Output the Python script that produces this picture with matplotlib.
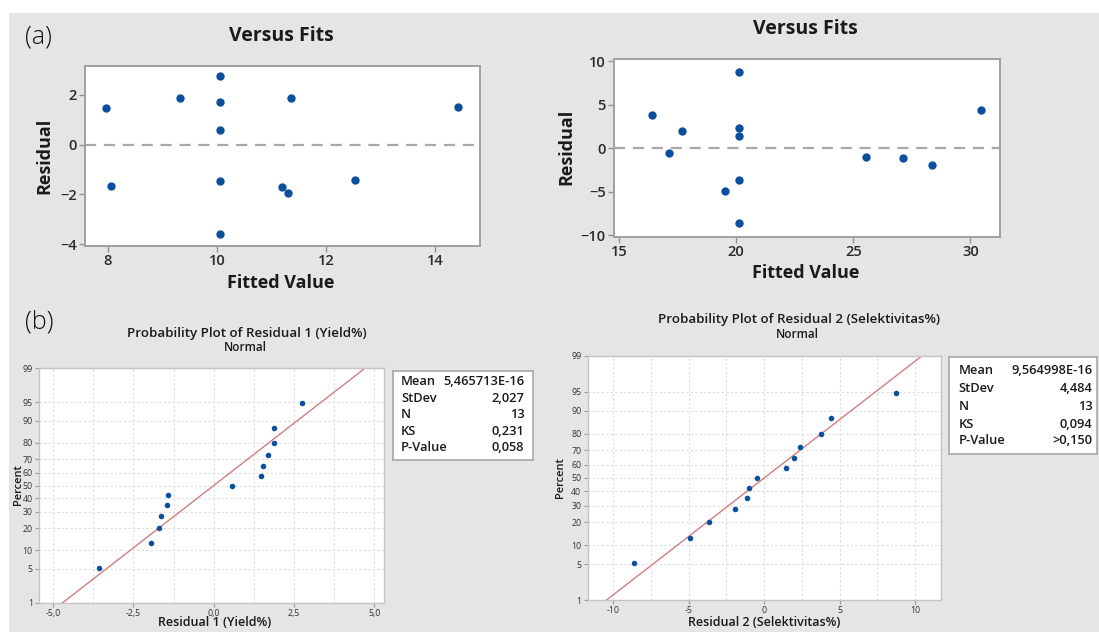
import numpy as np
import matplotlib
matplotlib.use("Agg")
import matplotlib.pyplot as plt
from matplotlib.patches import Rectangle
from statistics import NormalDist

# residuals vs fits
fits_yield = [7.97, 8.05, 9.33, 10.05, 10.05, 10.05, 10.05, 10.05, 11.35, 11.19, 11.30, 12.53, 14.42]
resid_yield = [1.48, -1.65, 1.88, 2.75, 1.70, 0.58, -1.47, -3.58, 1.88, -1.70, -1.94, -1.42, 1.52]

fits_sel = [16.42, 17.13, 17.69, 20.13, 20.13, 20.13, 20.13, 20.13, 19.51, 25.55, 27.13, 28.35, 30.43]
resid_sel = [3.79, -0.49, 2.00, 8.74, 2.34, 1.46, -3.63, -8.58, -4.94, -0.99, -1.15, -1.95, 4.45]

# probability plot percents (plotting positions)
pct = [5.2, 12.7, 20.1, 27.6, 35.1, 42.5, 50.0, 57.5, 64.9, 72.4, 79.9, 87.3, 94.8]
pct_ticks = [1, 5, 10, 20, 30, 40, 50, 60, 70, 80, 90, 95, 99]

stat_names = ['Mean', 'StDev', 'N', 'KS', 'P-Value']
stats_yield = ['5,465713E-16', '2,027', '13', '0,231', '0,058']
stats_sel = ['9,564998E-16', '4,484', '13', '0,094', '>0,150']
mean_yield, sd_yield = 0.0, 2.027
mean_sel, sd_sel = 0.0, 4.484

W, H = 1099, 632
BG = '#e5e5e5'
DOT = '#0b4f9f'
TXT = '#1a1a1a'

plt.rcParams['font.family'] = ['Open Sans', 'DejaVu Sans']

fig = plt.figure(figsize=(W / 100, H / 100), dpi=100)
fig.patch.set_facecolor('white')
fig.patches.append(Rectangle((9 / W, 0), 1 - 9 / W, 1 - 13 / H, transform=fig.transFigure,
                             facecolor=BG, edgecolor='none', zorder=-10))


def fx(px):
    return px / W


def fy(py):
    return 1 - py / H


def box(x0, y0, x1, y1):
    return [fx(x0), fy(y1), (x1 - x0) / W, (y1 - y0) / H]


def txt(x, y, s, **kw):
    kw.setdefault('ha', 'center')
    kw.setdefault('va', 'center')
    kw.setdefault('color', TXT)
    fig.text(fx(x), fy(y), s, **kw)


_nd = NormalDist()


def probit(p):
    p = np.clip(np.asarray(p, dtype=float), 1e-6, 100 - 1e-6) / 100
    return np.array([_nd.inv_cdf(v) if np.isfinite(v) else np.nan for v in p.ravel()]).reshape(p.shape)


def iprobit(z):
    z = np.asarray(z, dtype=float)
    return np.array([_nd.cdf(v) * 100 if np.isfinite(v) else np.nan for v in z.ravel()]).reshape(z.shape)


def fits_panel(rect, fits, resid, xlim, ylim, xticks, yticks):
    ax = fig.add_axes(rect)
    ax.scatter(fits, resid, s=36, color=DOT, zorder=3, linewidths=0)
    ax.axhline(0, color='#a8a8a8', lw=1.6, dashes=(5, 3.5), zorder=2)
    ax.set_xlim(*xlim)
    ax.set_ylim(*ylim)
    ax.set_xticks(xticks)
    ax.set_yticks(yticks)
    for sp in ax.spines.values():
        sp.set_color('#a0a0a0')
        sp.set_linewidth(1.4)
    ax.tick_params(length=4, width=1, color='#909090', labelsize=10.5,
                   labelcolor='#2a2a2a', pad=2)
    for lab in ax.get_xticklabels() + ax.get_yticklabels():
        lab.set_fontweight('semibold')
    return ax


def prob_panel(rect, resid, mean, sd, xlim, xticks, xgrid):
    ax = fig.add_axes(rect)
    ax.set_yscale('function', functions=(probit, iprobit))
    ax.set_ylim(1, 99)
    ax.set_xlim(*xlim)
    for g in xgrid:
        ax.axvline(g, color='#dcdcdc', lw=0.8, dashes=(2, 2), zorder=1)
    for g in pct_ticks:
        ax.axhline(g, color='#dcdcdc', lw=0.8, dashes=(2, 2), zorder=1)
    ends = np.array([1, 99])
    ax.plot(mean + sd * probit(ends), ends, color='#cf7f7f', lw=1.0, zorder=2)
    ax.scatter(np.sort(resid), pct, s=16, color=DOT, zorder=3, linewidths=0)
    ax.set_yticks(pct_ticks)
    ax.set_yticklabels([str(t) for t in pct_ticks])
    ax.yaxis.set_minor_locator(plt.NullLocator())
    ax.set_xticks(xticks)
    ax.set_xticklabels([f'{t:.1f}'.replace('.', ',') if isinstance(t, float) else str(t) for t in xticks])
    for sp in ax.spines.values():
        sp.set_color('#c4c4c4')
        sp.set_linewidth(1.0)
    ax.tick_params(length=3, width=0.8, color='#9a9a9a', labelsize=6.3,
                   labelcolor='#333333', pad=1.5)
    return ax


def stats_box(x0, y0, x1, y1, values, rows_y, lx, rx):
    bx = fig.add_axes(box(x0, y0, x1, y1))
    bx.set_xticks([])
    bx.set_yticks([])
    for sp in bx.spines.values():
        sp.set_color('#a8a8a8')
        sp.set_linewidth(1.2)
    for name, val, ry in zip(stat_names, values, rows_y):
        txt(lx, ry, name, ha='left', fontsize=9.3, fontweight='semibold')
        txt(rx, ry, val, ha='right', fontsize=9.3, fontweight='semibold')


# (a) residuals versus fits
fits_panel(box(85, 66, 480, 246), fits_yield, resid_yield, (7.58, 14.82), (-4.08, 3.16),
           [8, 10, 12, 14], [-4, -2, 0, 2])
fits_panel(box(614, 59, 1000, 237), fits_sel, resid_sel, (14.79, 31.26), (-10.2, 10.26),
           [15, 20, 25, 30], [-10, -5, 0, 5, 10])

txt(281.5, 36, 'Versus Fits', fontsize=14, fontweight='bold')
txt(805, 28.5, 'Versus Fits', fontsize=14, fontweight='bold')
txt(281, 283, 'Fitted Value', fontsize=13, fontweight='bold')
txt(806, 273, 'Fitted Value', fontsize=13, fontweight='bold')
txt(44, 156, 'Residual', fontsize=13, fontweight='bold', rotation=90)
txt(566.5, 147, 'Residual', fontsize=13, fontweight='bold', rotation=90)
txt(38.5, 37, '(a)', fontsize=18, fontweight='light', color='#111111')

# (b) normal probability plots
prob_panel(box(39, 368, 384, 603), resid_yield, mean_yield, sd_yield, (-5.44, 5.3),
           [-5.0, -2.5, 0.0, 2.5, 5.0], np.arange(-5, 5.01, 1.25))
prob_panel(box(587.5, 356, 940.5, 600), resid_sel, mean_sel, sd_sel, (-11.69, 11.67),
           [-10, -5, 0, 5, 10], np.arange(-10, 10.01, 2.5))

txt(39, 321.5, '(b)', fontsize=18, fontweight='light', color='#111111')
txt(247, 333, 'Probability Plot of Residual 1 (Yield%)', fontsize=9.6, fontweight='semibold')
txt(245, 347.5, 'Normal', fontsize=8.5, fontweight='semibold')
txt(799, 319.5, 'Probability Plot of Residual 2 (Selektivitas%)', fontsize=9.6, fontweight='semibold')
txt(797, 334.5, 'Normal', fontsize=8.5, fontweight='semibold')
txt(18, 485, 'Percent', fontsize=8, fontweight='semibold', rotation=90)
txt(560.5, 478, 'Percent', fontsize=8, fontweight='semibold', rotation=90)
txt(215, 623, 'Residual 1 (Yield%)', fontsize=9, fontweight='semibold')
txt(764, 622, 'Residual 2 (Selektivitas%)', fontsize=9, fontweight='semibold')

stats_box(393, 371, 532.5, 460, stats_yield, [381.7, 399, 415, 431.7, 447.7], 401, 524.5)
stats_box(948.5, 356.5, 1097, 453.5, stats_sel, [370.7, 389, 406, 424, 441], 958.5, 1092.5)

fig.savefig('out.png', dpi=100, facecolor=fig.get_facecolor())
